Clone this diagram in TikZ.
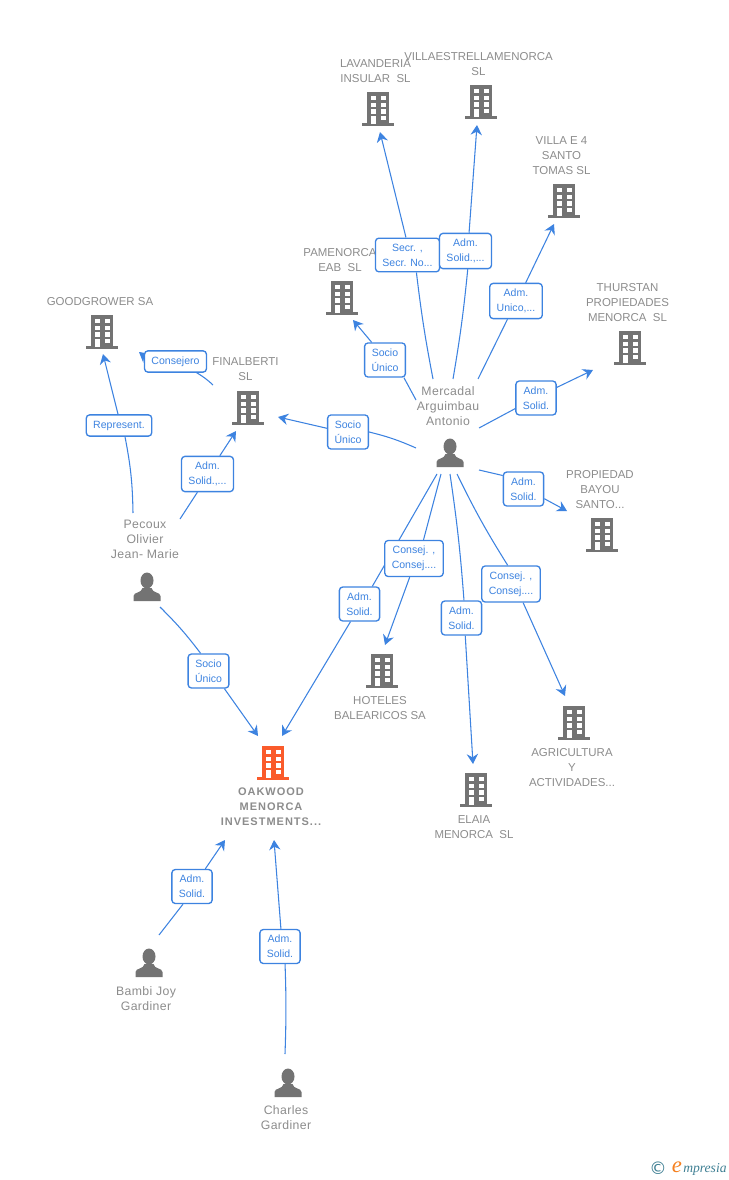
\documentclass[tikz,border=0pt]{standalone}
\usepackage{fontspec}
\setmainfont{Liberation Sans}
\newfontfamily\logofont{Liberation Serif}
\newfontfamily\copyfont{DejaVu Sans}
\usetikzlibrary{arrows.meta,backgrounds}
\definecolor{azul}{HTML}{3D83E0}
\definecolor{gris}{HTML}{8C8C8C}
\definecolor{icono}{HTML}{737373}
\definecolor{naranja}{HTML}{FA5B2B}
\definecolor{naranjaLogo}{HTML}{F5801F}
\definecolor{teal}{HTML}{3F7F93}
\newcommand{\puntal}{\rule{0pt}{5.9pt}}
\tikzset{
  nombre/.style={text=gris, align=center, inner sep=0pt, yshift=-0.6pt, font=\fontsize{8.6}{11.25}\selectfont,
    execute at begin node=\puntal},
  nombrePersona/.style={nombre, font=\fontsize{9.2}{11.25}\addfontfeatures{LetterSpace=3}\selectfont},
  nombreBold/.style={nombre, font=\fontsize{8.25}{11.25}\bfseries\addfontfeatures{LetterSpace=9}\selectfont},
  etiqueta/.style={draw=azul, line width=1pt, rounded corners=2.5pt, fill=white, text=azul, align=center,
    inner xsep=5.2pt, inner ysep=4.2pt, font=\fontsize{7.9}{11.25}\selectfont,
    execute at begin node=\puntal},
  enlace/.style={draw=azul, line width=0.8pt},
  flecha/.style={enlace, -{Stealth[length=7.5pt,width=8.5pt,inset=2.5pt]}},
  pics/edificio/.style={code={
    \fill[#1] (-11,-17) rectangle (11,14);
    \fill[#1] (-16,14) rectangle (16,17);
    \foreach \fila in {-13,-6.3,0.3} {
      \fill[white] (-7.5,\fila) rectangle (-2.5,\fila+4.3);
      \fill[white] (2.5,\fila) rectangle (7.5,\fila+4.3);
    }
    \fill[white] (-7.5,7) rectangle (-2.5,15);
    \fill[white] (2.5,7) rectangle (7.5,11.3);
  }},
  pics/persona/.style={code={
    \fill[icono] (0,-6.5) ellipse [x radius=6.5, y radius=8];
    \fill[icono] (-13.5,14) -- (-13.5,9) .. controls (-13.5,5) and (-5,6) .. (-4.5,1)
      -- (4.5,1) .. controls (5,6) and (13.5,5) .. (13.5,9) -- (13.5,14) -- cycle;
  }}
}
\begin{document}
\begin{tikzpicture}[x=0.75pt,y=-0.75pt]
  \useasboundingbox (0,0) rectangle (728,1180);

  % Edificios
  \pic at (378,109) {edificio=icono};
  \pic at (481,102) {edificio=icono};
  \pic at (564,201) {edificio=icono};
  \pic at (342,298) {edificio=icono};
  \pic at (630,348) {edificio=icono};
  \pic at (602,535) {edificio=icono};
  \pic at (102,332) {edificio=icono};
  \pic at (248,408) {edificio=icono};
  \pic at (382,671) {edificio=icono};
  \pic at (574,723) {edificio=icono};
  \pic at (476,790) {edificio=icono};
  \pic at (273,763) {edificio=naranja};

  % Personas
  \pic at (450,453) {persona};
  \pic at (147,587) {persona};
  \pic at (149,963) {persona};
  \pic at (288,1083) {persona};

  % Nombres
  \node[nombre] (lavanderia) at (375.5,70.5) {LAVANDERIA\\INSULAR\ \ SL};
  \node[nombre] (villaestrella) at (478.5,63.5) {VILLAESTRELLAMENORCA\\SL};
  \node[nombre] (villa) at (561.5,155) {VILLA E 4\\SANTO\\TOMAS SL};
  \node[nombre] (pamenorca) at (340,259.5) {PAMENORCA\\EAB\ \ SL};
  \node[nombre] (thurstan) at (627.5,302) {THURSTAN\\PROPIEDADES\\MENORCA\ \ SL};
  \node[nombre] (propiedad) at (600,489) {PROPIEDAD\\BAYOU\\SANTO...};
  \node[nombre] (goodgrower) at (100,301) {GOODGROWER SA};
  \node[nombre] (finalberti) at (245.5,368.5) {FINALBERTI\\SL};
  \node[nombre] (hoteles) at (380,707.5) {HOTELES\\BALEARICOS SA};
  \node[nombre] (agricultura) at (572,767) {AGRICULTURA\\Y\\ACTIVIDADES...};
  \node[nombre] (elaia) at (474,826.5) {ELAIA\\MENORCA\ \ SL};
  \node[nombreBold] (oakwood) at (271,806) {OAKWOOD\\MENORCA\\INVESTMENTS...};
  \node[nombrePersona] (mercadal) at (448,405) {Mercadal\\Arguimbau\\Antonio};
  \node[nombrePersona] (pecoux) at (145,539) {Pecoux\\Olivier\\Jean- Marie};
  \node[nombrePersona] (bambi) at (146,997.5) {Bambi Joy\\Gardiner};
  \node[nombrePersona] (charles) at (286,1116.5) {Charles\\Gardiner};

  % Etiquetas
  \node[etiqueta] (lblSecr) at (407.5,255) {Secr. ,\\Secr. No...};
  \node[etiqueta] (lblLavado) at (465.5,251) {Adm.\\Solid.,...};
  \node[etiqueta] (lblUnico) at (516,301) {Adm.\\Unico,...};
  \node[etiqueta] (lblThurstan) at (536,398) {Adm.\\Solid.};
  \node[etiqueta] (lblPropiedad) at (523.5,489) {Adm.\\Solid.};
  \node[etiqueta] (lblConsejA) at (414,558.5) {Consej. ,\\Consej....};
  \node[etiqueta] (lblConsejB) at (511,584) {Consej. ,\\Consej....};
  \node[etiqueta] (lblOak) at (359.5,604) {Adm.\\Solid.};
  \node[etiqueta] (lblElaia) at (461.5,618) {Adm.\\Solid.};
  \node[etiqueta] (lblPamenorca) at (385,360) {Socio\\Único};
  \node[etiqueta] (lblFinal) at (348,432) {Socio\\Único};
  \node[etiqueta] (lblConsejero) at (175.5,361.5) {Consejero};
  \node[etiqueta] (lblRepresent) at (119,425.5) {Represent.};
  \node[etiqueta] (lblPecoux) at (207.5,474) {Adm.\\Solid.,...};
  \node[etiqueta] (lblSocioOak) at (208.5,671) {Socio\\Único};
  \node[etiqueta] (lblBambi) at (192,886.5) {Adm.\\Solid.};
  \node[etiqueta] (lblCharles) at (280,946.5) {Adm.\\Solid.};

  % Extremos libres
  \coordinate (iniSecr) at (433,379);
  \coordinate (finSecr) at (380,132);
  \coordinate (iniLavado) at (453,379);
  \coordinate (finLavado) at (477,125);
  \coordinate (iniUnico) at (478,379);
  \coordinate (finUnico) at (554,224);
  \coordinate (iniPamenorca) at (416,400);
  \coordinate (finPamenorca) at (353,320);
  \coordinate (iniThurstan) at (479,428);
  \coordinate (finThurstan) at (593,370);
  \coordinate (iniFinal) at (416,448);
  \coordinate (finFinal) at (278,417);
  \coordinate (iniPropiedad) at (479,470);
  \coordinate (finPropiedad) at (567,511);
  \coordinate (iniConsejA) at (441,474);
  \coordinate (finConsejA) at (385,645);
  \coordinate (iniElaia) at (450,474);
  \coordinate (finElaia) at (473,764);
  \coordinate (iniConsejB) at (457,474);
  \coordinate (finConsejB) at (565,696);
  \coordinate (iniOak) at (437,474);
  \coordinate (finOak) at (282,736);
  \coordinate (iniRepresent) at (133,513);
  \coordinate (finRepresent) at (103,354);
  \coordinate (iniPecoux) at (180,519);
  \coordinate (finPecoux) at (236,431);
  \coordinate (iniSocioOak) at (160,607);
  \coordinate (finSocioOak) at (258,736);
  \coordinate (iniConsejero) at (213,385);
  \coordinate (finConsejero) at (139,352);
  \coordinate (iniBambi) at (159,935);
  \coordinate (finBambi) at (225,840);
  \coordinate (iniCharles) at (285,1054);
  \coordinate (finCharles) at (274,840);

  % Enlaces
  \begin{scope}[on background layer]
    \draw[enlace] (iniSecr) to[bend left=2] (lblSecr.-63);
    \draw[flecha] (lblSecr.95) -- (finSecr);
    \draw[enlace] (iniLavado) to[bend right=2] (lblLavado.-83);
    \draw[flecha] (lblLavado.79) -- (finLavado);
    \draw[enlace] (iniUnico) -- (lblUnico.-115);
    \draw[flecha] (lblUnico.62) -- (finUnico);
    \draw[enlace] (iniPamenorca) -- (lblPamenorca.-43);
    \draw[flecha] (lblPamenorca.127) -- (finPamenorca);
    \draw[enlace] (iniThurstan) -- (lblThurstan.207);
    \draw[flecha] (lblThurstan.27) -- (finThurstan);
    \draw[enlace] (iniFinal) to[bend right=5] (lblFinal.0);
    \draw[flecha] (lblFinal.170) -- (finFinal);
    \draw[enlace] (iniPropiedad) -- (lblPropiedad.147);
    \draw[flecha] (lblPropiedad.-25) -- (finPropiedad);
    \draw[enlace] (iniConsejA) -- (lblConsejA.63);
    \draw[flecha] (lblConsejA.-103) -- (finConsejA);
    \draw[enlace] (iniElaia) to[bend left=2] (lblElaia.82);
    \draw[flecha] (lblElaia.-78) -- (finElaia);
    \draw[enlace] (iniConsejB) to[bend right=3] (lblConsejB.100);
    \draw[flecha] (lblConsejB.-57) -- (finConsejB);
    \draw[enlace] (iniOak) -- (lblOak.54);
    \draw[flecha] (lblOak.-117) -- (finOak);
    \draw[enlace] (iniRepresent) to[bend right=5] (lblRepresent.-62);
    \draw[flecha] (lblRepresent.95) -- (finRepresent);
    \draw[enlace] (iniPecoux) -- (lblPecoux.-119);
    \draw[flecha] (lblPecoux.56) -- (finPecoux);
    \draw[enlace] (iniSocioOak) to[bend left=4] (lblSocioOak.114);
    \draw[flecha] (lblSocioOak.-48) -- (finSocioOak);
    \draw[enlace] (iniConsejero) to[bend right=6] (lblConsejero.-28);
    \draw[flecha] (lblConsejero.170) -- (finConsejero);
    \draw[enlace] (iniBambi) -- (lblBambi.-117);
    \draw[flecha] (lblBambi.53) -- (finBambi);
    \draw[enlace] (iniCharles) to[bend right=2] (lblCharles.-74);
    \draw[flecha] (lblCharles.87) -- (finCharles);
  \end{scope}

  % Logo
  \node[text=teal, inner sep=0pt, font=\copyfont\fontsize{13}{14}\selectfont] (logoCopy) at (658,1168) {©};
  \node[text=naranjaLogo, inner sep=0pt, font=\logofont\itshape\fontsize{17}{17}\selectfont] (logoE) at (677,1167) {e};
  \node[text=teal, inner sep=0pt, anchor=west, font=\logofont\itshape\fontsize{10.2}{12}\selectfont] (logoTxt) at (683,1169) {mpresia};
\end{tikzpicture}
\end{document}
